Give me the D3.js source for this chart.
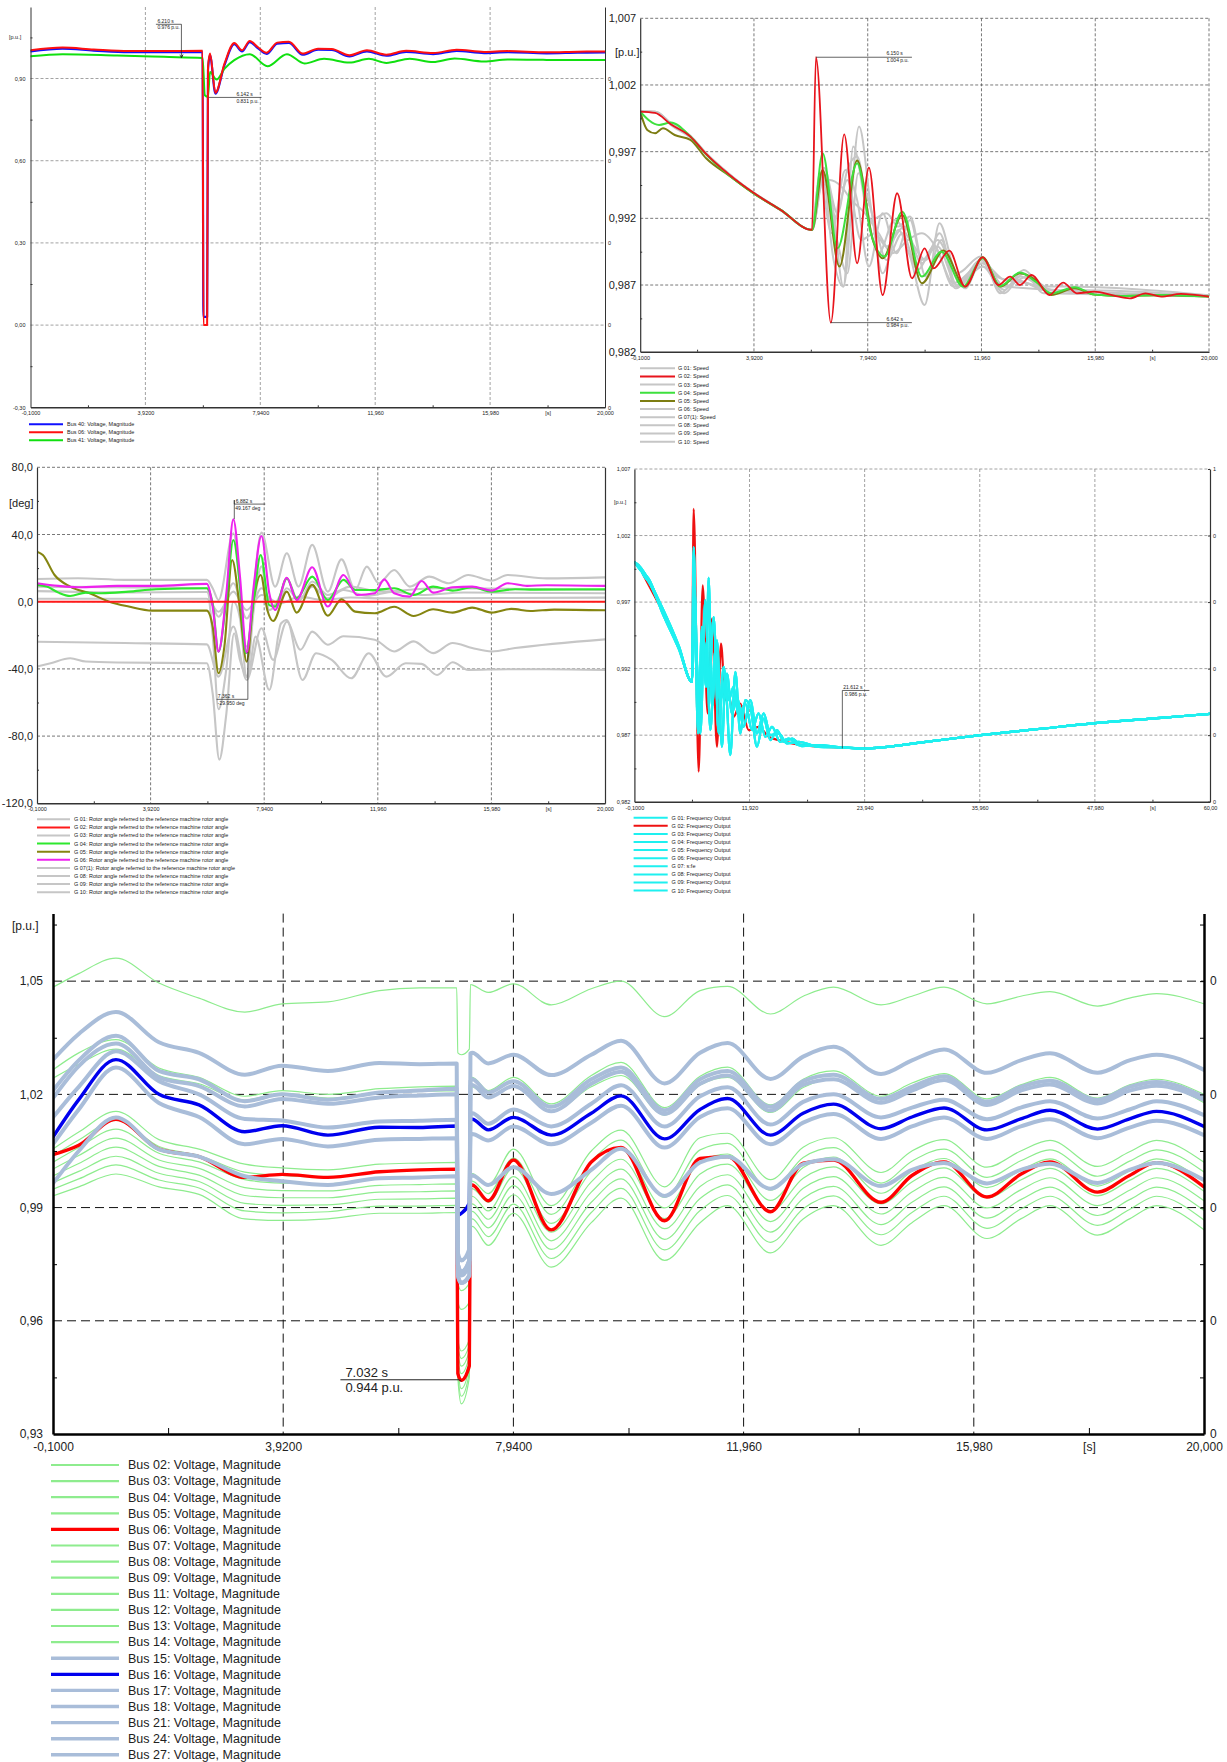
<!DOCTYPE html>
<html><head><meta charset="utf-8">
<script src="https://cdn.jsdelivr.net/npm/d3@7/dist/d3.min.js"></script>
<style>html,body{margin:0;padding:0;background:#fff}svg{display:block}</style>
</head><body>
<svg id="chart" width="1227" height="1762"></svg>
<script>
// ================= DATA =================
// ---- Panel 1 : bus voltages [p.u.] vs time [s]
const p1Bus40 = [[-0.1,0.999],[1.02,1.009],[2.11,1.002],[3.34,0.996],[4.57,0.996],[5.92,0.997],[5.95,0.03],[6.08,0.03],[6.11,0.93],[6.18,0.985],[6.37,0.845],[6.69,0.95],[7.03,1.025],[7.30,0.999],[7.57,1.033],[7.85,1.011],[8.16,0.99],[8.53,1.027],[8.94,1.03],[9.42,0.987],[9.96,1.005],[10.44,1.004],[11.06,0.981],[11.67,0.999],[12.35,0.983],[13.04,0.997],[13.99,0.989],[14.81,1.001],[15.77,0.993],[16.59,0.996],[17.96,0.992],[19.04,0.994],[20.0,0.995]];
const p1Bus06 = [[-0.1,1.003],[1.02,1.013],[2.11,1.006],[3.34,1.0],[4.57,1.0],[5.92,1.001],[5.95,0.0],[6.08,0.0],[6.11,0.94],[6.18,0.991],[6.37,0.848],[6.69,0.955],[7.03,1.03],[7.30,1.003],[7.57,1.037],[7.85,1.015],[8.16,0.994],[8.53,1.031],[8.94,1.034],[9.42,0.991],[9.96,1.009],[10.44,1.008],[11.06,0.985],[11.67,1.003],[12.35,0.987],[13.04,1.001],[13.99,0.993],[14.81,1.005],[15.77,0.997],[16.59,1.0],[17.96,0.996],[19.04,0.998],[20.0,0.999]];
const p1Bus41 = [[-0.1,0.981],[1.02,0.989],[2.93,0.984],[4.57,0.979],[5.92,0.975],[6.0,0.839],[6.11,0.833],[6.18,0.924],[6.41,0.896],[6.69,0.936],[7.03,0.967],[7.57,0.989],[8.19,0.945],[8.87,0.989],[9.49,0.955],[10.17,0.972],[11.06,0.958],[11.74,0.972],[12.35,0.957],[13.17,0.972],[13.99,0.960],[14.74,0.973],[15.77,0.962],[16.59,0.969],[17.96,0.968],[20.0,0.968]];
const p1Names = ["Bus 40: Voltage, Magnitude","Bus 06: Voltage, Magnitude","Bus 41: Voltage, Magnitude"];

// ---- Panel 2 : generator speed [p.u.]
const p2G01 = [[-0.1,1.00005],[0.427,1.0],[0.981,0.99908],[1.674,0.99813],[2.229,0.99683],[3.06,0.99525],[3.894,0.99393],[4.863,0.99263],[5.972,0.99113],[6.249,0.99538],[6.665,0.99338],[7.08,0.98688],[7.635,0.99888],[8.051,0.99288],[8.467,0.98788],[9.021,0.99113],[9.437,0.98913],[9.95,0.9855],[10.477,0.99163],[10.962,0.98838],[11.378,0.98675],[12.002,0.989],[12.625,0.98638],[13.318,0.98763],[13.873,0.98713],[14.428,0.98638],[15.259,0.98663],[20.0,0.98618]];
const p2G02 = [[-0.1,1.0],[0.427,0.9999],[0.981,0.99905],[1.674,0.99813],[2.229,0.99683],[3.06,0.99525],[3.894,0.99393],[4.863,0.99263],[5.972,0.99113],[6.11,1.00408],[6.637,0.98418],[7.108,0.9983],[7.566,0.98863],[7.981,0.9958],[8.467,0.98625],[8.98,0.99388],[9.506,0.9875],[9.95,0.98975],[10.269,0.98825],[10.823,0.98958],[11.378,0.98688],[12.002,0.98908],[12.556,0.987],[12.972,0.98763],[13.318,0.987],[13.734,0.98775],[14.358,0.98625],[14.843,0.98718],[15.329,0.98638],[15.952,0.9865],[16.645,0.9862],[17.2,0.986],[17.754,0.98638],[18.309,0.98613],[19.002,0.98633],[20.0,0.98613]];
const p2G03 = [[-0.1,1.0],[0.427,1.0],[0.981,0.99915],[1.674,0.9982],[2.229,0.9969],[3.06,0.9953],[3.894,0.9939],[4.863,0.9926],[5.972,0.99113],[6.387,0.9958],[6.873,0.99238],[7.219,0.99563],[7.566,0.99663],[8.051,0.99188],[8.605,0.99238],[9.021,0.99138],[9.437,0.99213],[9.992,0.98763],[10.546,0.99038],[11.031,0.98675],[12.002,0.98863],[12.764,0.98663],[13.457,0.98813],[14.151,0.98688],[14.843,0.98688],[20.0,0.98623]];
const p2G04 = [[-0.1,1.0],[0.565,0.999],[0.981,0.99918],[1.674,0.99813],[2.229,0.9968],[3.06,0.9952],[3.894,0.9939],[4.863,0.99263],[5.972,0.99113],[6.346,0.99688],[6.873,0.98975],[7.566,0.99613],[8.051,0.99088],[8.536,0.98913],[9.16,0.9925],[9.853,0.98763],[10.546,0.9895],[11.309,0.98688],[12.002,0.989],[12.625,0.98693],[13.318,0.98793],[13.873,0.98725],[14.428,0.98638],[15.259,0.98683],[15.952,0.98628],[16.923,0.98618],[18.309,0.98625],[20.0,0.98613]];
const p2G05 = [[-0.1,1.0],[0.15,0.99863],[0.427,0.99838],[0.704,0.99875],[1.12,0.99825],[1.674,0.99788],[2.229,0.9965],[3.06,0.99518],[3.894,0.99388],[4.863,0.99263],[5.972,0.99113],[6.346,0.99563],[6.942,0.98838],[7.566,0.99633],[8.12,0.99038],[8.467,0.989],[9.16,0.99225],[9.853,0.98713],[10.615,0.98958],[11.378,0.98688],[12.002,0.98908],[12.625,0.98688],[13.318,0.98788],[13.873,0.98738],[14.428,0.98625],[15.259,0.98675],[15.952,0.98628],[16.923,0.98618],[18.309,0.98623],[20.0,0.98613]];
const p2G06 = [[-0.1,1.0],[0.5,0.99995],[0.981,0.999],[1.674,0.99805],[2.229,0.99678],[3.06,0.9952],[3.894,0.99395],[4.863,0.99265],[5.972,0.99113],[6.318,0.9955],[6.734,0.98888],[7.08,0.98688],[7.427,0.99738],[7.912,0.99238],[8.328,0.98938],[8.883,0.99188],[9.437,0.99038],[9.992,0.98888],[10.477,0.99088],[11.101,0.98688],[12.002,0.98838],[12.625,0.9875],[13.457,0.98725],[14.151,0.98663],[20.0,0.98618]];
const p2G07 = [[-0.1,1.00005],[0.427,0.99995],[0.981,0.9991],[1.674,0.99815],[2.229,0.99685],[3.06,0.99525],[3.894,0.99393],[4.863,0.99263],[5.972,0.99113],[6.387,0.99538],[6.803,0.99088],[7.219,0.98788],[7.607,0.99538],[8.12,0.99213],[8.605,0.98888],[9.16,0.99088],[9.714,0.98813],[10.269,0.98988],[10.962,0.98713],[12.002,0.98863],[12.764,0.98738],[13.596,0.98713],[14.289,0.98668],[20.0,0.98613]];
const p2G08 = [[-0.1,1.0],[0.427,1.0],[0.981,0.99912],[1.674,0.9981],[2.229,0.99685],[3.06,0.99528],[3.894,0.99393],[4.863,0.99263],[5.972,0.99113],[6.18,0.99438],[6.595,0.99488],[7.011,0.99438],[7.358,0.99338],[7.843,0.99238],[8.328,0.99088],[8.813,0.98938],[9.368,0.99038],[9.853,0.99088],[10.408,0.98963],[10.962,0.98688],[12.002,0.98838],[12.764,0.98638],[13.457,0.98788],[14.151,0.98638],[20.0,0.98623]];
const p2G09 = [[-0.1,1.0],[0.427,0.99998],[0.981,0.99906],[1.674,0.99812],[2.229,0.99682],[3.06,0.99524],[3.894,0.99392],[4.863,0.99262],[5.972,0.99113],[6.249,0.99488],[6.665,0.99088],[7.15,0.99563],[7.566,0.99338],[7.981,0.98838],[8.467,0.99238],[8.952,0.98938],[9.437,0.99188],[9.853,0.98888],[10.408,0.98988],[11.101,0.987],[11.933,0.98888],[12.764,0.98688],[20.0,0.9862]];
const p2G10 = [[-0.1,1.0],[0.427,0.99997],[0.981,0.99907],[1.674,0.99814],[2.229,0.99684],[3.06,0.99526],[3.894,0.99394],[4.863,0.99264],[5.972,0.99113],[6.387,0.99513],[6.803,0.99213],[7.219,0.99488],[7.704,0.99038],[8.189,0.99088],[8.605,0.98988],[9.229,0.99138],[9.853,0.98863],[10.408,0.99038],[11.101,0.98788],[11.933,0.98913],[12.764,0.98688],[13.596,0.98763],[14.428,0.98663],[20.0,0.98615]];
const p2Names = ["G 01: Speed","G 02: Speed","G 03: Speed","G 04: Speed","G 05: Speed","G 06: Speed","G 07(1): Speed","G 08: Speed","G 09: Speed","G 10: Speed"];

// ---- Panel 3 : rotor angles [deg]
const p3G01 = [[-0.1,13.5],[1.35,14.0],[3.0,13.0],[5.909,13.0],[6.116,8.0],[6.324,1.0],[6.848,40.7],[7.318,-26.7],[7.843,41.1],[8.327,9.0],[8.741,28.8],[9.155,9.0],[9.639,33.8],[10.19,6.0],[10.675,25.2],[11.16,7.0],[11.57,20.9],[11.99,11.0],[12.54,18.9],[13.09,9.0],[13.78,14.9],[14.47,11.0],[15.16,15.9],[15.99,12.5],[16.55,15.9],[17.93,13.9],[20.0,14.5]];
const p3G02 = [[-0.1,0.0],[20.0,0.0]];
const p3G03 = [[-0.1,6.3],[3.0,5.5],[5.909,5.8],[6.324,-9.0],[6.848,11.0],[7.318,-10.0],[7.843,8.0],[8.327,-3.0],[8.741,8.0],[9.155,1.0],[9.639,9.0],[10.19,2.0],[10.744,7.0],[11.57,3.5],[12.54,6.0],[13.5,4.0],[15.0,5.5],[20.0,5.0]];
const p3G04 = [[-0.1,10.0],[0.245,9.0],[0.66,5.4],[1.074,3.4],[1.627,5.4],[2.179,5.0],[3.146,6.0],[4.113,7.4],[5.909,8.0],[6.116,-1.0],[6.324,-29.7],[6.6,1.0],[6.848,36.7],[7.083,9.0],[7.29,-30.7],[7.567,1.0],[7.816,27.8],[8.12,-2.0],[8.327,-2.9],[8.741,13.9],[9.087,2.0],[9.639,14.9],[10.19,1.0],[10.744,13.0],[11.16,7.0],[11.85,7.0],[12.54,8.0],[13.23,4.0],[13.92,9.0],[14.61,6.6],[15.3,8.6],[15.99,6.0],[16.82,7.4],[17.5,7.2],[20.0,7.4]];
const p3G05 = [[-0.1,29.8],[0.107,27.8],[0.522,15.9],[1.074,9.0],[1.765,5.0],[2.456,0.0],[3.146,-2.9],[3.975,-5.3],[5.909,-5.3],[6.116,-14.8],[6.324,-42.6],[6.531,-26.7],[6.807,24.8],[7.083,-4.9],[7.318,-35.7],[7.567,1.0],[7.816,15.9],[8.05,-4.9],[8.257,-11.5],[8.741,6.0],[9.087,-6.5],[9.639,10.0],[10.19,-8.3],[10.675,1.4],[11.16,-5.9],[11.85,-6.9],[12.54,-3.0],[13.23,-8.5],[13.92,-4.5],[14.61,-6.5],[15.3,-3.5],[15.99,-6.5],[16.68,-4.3],[17.37,-5.5],[18.2,-4.7],[20.0,-5.1]];
const p3G06 = [[-0.1,11.0],[0.66,9.4],[1.35,8.6],[2.732,9.4],[4.113,9.4],[5.909,10.6],[6.116,-2.9],[6.324,-29.7],[6.6,5.0],[6.848,49.0],[7.083,14.9],[7.318,-30.3],[7.567,9.0],[7.843,39.1],[8.12,5.0],[8.327,-4.9],[8.741,14.3],[9.087,1.0],[9.639,20.5],[10.19,-2.9],[10.744,15.9],[11.23,4.0],[11.85,5.0],[12.19,13.3],[12.54,5.0],[13.09,3.0],[13.51,12.3],[13.92,5.4],[14.61,8.6],[15.3,9.0],[15.99,6.6],[16.55,11.0],[17.24,9.4],[17.93,9.8],[20.0,9.4]];
const p3G07 = [[-0.1,1.8],[5.909,1.8],[6.324,-6.0],[6.848,6.0],[7.318,-5.0],[7.843,4.0],[8.5,-1.0],[9.2,3.0],[10.0,1.0],[11.0,2.5],[12.0,2.0],[20.0,2.4]];
const p3G08 = [[-0.1,-23.8],[3.0,-24.6],[5.909,-25.4],[6.324,-44.6],[6.848,-14.8],[7.318,-46.6],[7.843,-15.8],[8.257,-34.6],[8.741,-11.9],[9.225,-28.6],[9.639,-17.8],[10.19,-25.6],[10.744,-20.6],[11.85,-22.6],[12.54,-29.6],[13.23,-23.6],[13.92,-30.6],[14.61,-24.6],[15.3,-27.6],[15.99,-29.6],[16.82,-27.6],[20.0,-22.4]];
const p3G09 = [[-0.1,-38.6],[0.383,-36.6],[1.074,-33.7],[1.627,-35.6],[2.732,-36.2],[5.909,-36.6],[6.116,-54.5],[6.351,-94.0],[6.6,-66.7],[6.876,-18.8],[7.083,-34.7],[7.36,-44.6],[7.636,-20.8],[8.12,-52.5],[8.534,-13.0],[8.741,-10.9],[9.294,-46.6],[9.777,-30.7],[10.33,-34.7],[11.02,-45.6],[11.64,-30.7],[12.26,-44.6],[12.95,-36.6],[13.51,-37.0],[14.06,-43.6],[14.61,-36.0],[15.16,-40.6],[16.55,-40.2],[17.93,-40.2],[20.0,-40.6]];
const p3G10 = [[-0.1,9.0],[5.909,8.0],[6.116,-20.0],[6.324,-64.0],[6.6,-40.0],[6.848,0.0],[7.083,-10.0],[7.318,-45.0],[7.567,-5.0],[7.843,21.0],[8.12,-5.0],[8.534,5.0],[8.741,14.0],[9.155,0.0],[9.639,12.0],[10.19,4.0],[11.0,9.0],[12.0,6.0],[14.0,8.0],[20.0,7.0]];
const p3Names = ["G 01: Rotor angle referred to the reference machine rotor angle","G 02: Rotor angle referred to the reference machine rotor angle","G 03: Rotor angle referred to the reference machine rotor angle","G 04: Rotor angle referred to the reference machine rotor angle","G 05: Rotor angle referred to the reference machine rotor angle","G 06: Rotor angle referred to the reference machine rotor angle","G 07(1): Rotor angle referred to the reference machine rotor angle","G 08: Rotor angle referred to the reference machine rotor angle","G 09: Rotor angle referred to the reference machine rotor angle","G 10: Rotor angle referred to the reference machine rotor angle"];

// ---- Panel 4 : frequency output [p.u.], 0-60 s
const p4FreqA = [[-0.1,1.0],[0.35,0.99975],[0.87,0.999],[1.4,0.9985],[2.78,0.99638],[4.52,0.99363],[5.91,0.991],[6.09,1.00113],[6.54,0.98713],[6.96,0.99513],[7.38,0.99063],[7.65,0.99883],[8.0,0.98913],[8.52,0.99413],[9.04,0.98613],[9.39,0.99088],[9.91,0.9855],[10.44,0.99175],[10.96,0.98713],[11.48,0.98963],[12.0,0.98913],[12.7,0.98613],[13.4,0.98825],[14.1,0.98663],[14.8,0.98738],[15.5,0.9865],[16.36,0.98675],[17.4,0.98618],[19.1,0.98625],[21.6,0.98608],[23.89,0.986],[30.32,0.9865],[36.05,0.987],[42.6,0.9875],[48.0,0.9879],[54.88,0.9883],[60.0,0.9886]];
const p4FreqB = [[-0.1,1.0],[0.55,0.9996],[1.2,0.9989],[2.78,0.99663],[4.52,0.99375],[5.91,0.991],[6.12,0.99838],[6.68,0.98838],[7.13,0.99413],[7.65,0.99063],[8.18,0.99588],[8.7,0.98713],[9.22,0.99213],[9.74,0.98963],[10.26,0.99063],[10.79,0.98838],[11.48,0.98938],[12.18,0.98738],[12.87,0.98863],[13.57,0.98688],[14.27,0.98763],[15.13,0.9865],[16.0,0.98675],[17.05,0.98625],[19.14,0.98618],[21.6,0.98608],[23.89,0.986],[30.32,0.9865],[36.05,0.987],[42.6,0.9875],[48.0,0.9879],[54.88,0.9883],[60.0,0.9886]];
const p4FreqC = [[-0.1,1.0],[0.7,0.99925],[1.4,0.99875],[2.78,0.99625],[4.52,0.9935],[5.91,0.991],[6.19,0.99513],[6.79,0.98713],[7.3,0.99713],[7.83,0.98738],[8.35,0.99338],[8.87,0.98963],[9.56,0.99163],[10.09,0.98863],[10.61,0.98988],[11.3,0.98763],[12.0,0.98963],[12.7,0.98713],[13.4,0.98863],[14.1,0.987],[14.97,0.98713],[15.84,0.98638],[17.05,0.9865],[19.14,0.98612],[21.6,0.98608],[23.89,0.986],[30.32,0.9865],[36.05,0.987],[42.6,0.9875],[48.0,0.9879],[54.88,0.9883],[60.0,0.9886]];
const p4FreqG02 = [[-0.1,1.0],[0.35,0.99975],[0.87,0.999],[2.78,0.99638],[4.52,0.99363],[5.91,0.991],[6.09,1.004],[6.61,0.98425],[7.03,0.99825],[7.55,0.98863],[8.0,0.99575],[8.52,0.98613],[8.94,0.99388],[9.39,0.98963],[9.81,0.98975],[10.26,0.98838],[10.96,0.98938],[11.83,0.98738],[12.87,0.98763],[13.92,0.98688],[14.97,0.98663],[16.36,0.98638],[18.44,0.98618],[21.6,0.98608],[23.89,0.986],[30.32,0.9865],[36.05,0.987],[42.6,0.9875],[48.0,0.9879],[54.88,0.9883],[60.0,0.9886]];
const p4Names = ["G 01: Frequency Output","G 02: Frequency Output","G 03: Frequency Output","G 04: Frequency Output","G 05: Frequency Output","G 06: Frequency Output","G 07: s:fe","G 08: Frequency Output","G 09: Frequency Output","G 10: Frequency Output"];

// ---- Panel 5 : bus voltages [p.u.], shared time grid [s]
const T5 = [-0.1,0.35,1.0,1.75,2.45,3.25,3.9,4.7,5.6,6.3,6.95,6.97,7.03,7.17,7.19,7.22,7.5,7.94,8.6,9.3,9.82,10.58,11.2,11.68,12.43,13.0,13.53,14.36,14.9,15.46,16.21,16.8,17.31,18.14,18.7,19.17,20.0];
const bus02 = [1.0484,1.052,1.0561,1.0495,1.0455,1.0418,1.044,1.0445,1.0475,1.0482,1.0482,1.031,1.0305,1.032,1.0491,1.049,1.047,1.0493,1.0437,1.048,1.05,1.0406,1.0475,1.0486,1.0413,1.046,1.0484,1.0437,1.046,1.0484,1.044,1.046,1.0472,1.0434,1.0455,1.0467,1.044];
const bus03 = [1.0265,1.031,1.0345,1.027,1.0245,1.0195,1.021,1.02,1.0215,1.022,1.0222,0.97,0.968,0.97,1.0245,1.0245,1.021,1.0245,1.0175,1.025,1.0285,1.0165,1.0248,1.0272,1.0172,1.024,1.0262,1.0195,1.023,1.0255,1.0188,1.0225,1.0245,1.019,1.0225,1.024,1.02];
const bus04 = [1.0243,1.028,1.032,1.025,1.0228,1.0185,1.0203,1.019,1.0205,1.0208,1.021,0.965,0.963,0.965,1.022,1.022,1.019,1.022,1.0155,1.022,1.025,1.0145,1.0225,1.0245,1.0152,1.0218,1.024,1.018,1.0212,1.0238,1.0175,1.021,1.0228,1.0178,1.021,1.0225,1.0178];
const bus05 = [1.0055,1.01,1.0155,1.008,1.0055,1.0015,1.0005,1.0,1.0015,1.0018,1.002,0.955,0.952,0.955,0.999,0.999,0.996,1.0055,0.9905,1.005,1.0105,0.9955,1.0085,1.0097,0.9974,1.006,1.0085,0.9993,1.005,1.008,1.0007,1.005,1.0078,1.0009,1.0048,1.0078,1.002];
const bus06 = [1.004,1.0065,1.0134,1.0055,1.0035,0.998,0.9988,0.998,0.9995,1.0,1.0002,0.946,0.9442,0.948,0.9955,0.996,0.9918,1.0026,0.9841,1.0021,1.0059,0.9865,1.003,1.0035,0.9889,1.0018,1.0026,0.9914,0.9985,1.0021,0.9928,0.9988,1.0021,0.9941,0.9985,1.0019,0.9955];
const bus07 = [1.0037,1.0079,1.0131,1.0062,1.0038,0.9994,0.9985,0.9981,0.9996,0.9999,1.0001,0.9536,0.95,0.9536,0.997,0.997,0.9937,1.0031,0.9882,1.0023,1.0079,0.9927,1.0053,1.007,0.9946,1.0033,1.0059,0.9965,1.0023,1.0055,0.998,1.0024,1.0053,0.9983,1.0023,1.0053,0.9994];
const bus08 = [1.002,1.0059,1.0108,1.0044,1.0021,0.9974,0.9965,0.9963,0.9978,0.998,0.9982,0.9521,0.948,0.9521,0.995,0.995,0.9914,1.0006,0.9858,0.9996,1.0054,0.9899,1.0021,1.0042,0.9919,1.0006,1.0034,0.9938,0.9996,1.003,0.9953,0.9999,1.0029,0.9957,0.9997,1.0029,0.9969];
const bus09 = [1.0002,1.0038,1.0084,1.0026,1.0004,0.9953,0.9945,0.9944,0.9959,0.9961,0.9963,0.9507,0.946,0.9507,0.993,0.993,0.9891,0.9982,0.9835,0.9968,1.0028,0.9871,0.9989,1.0015,0.9891,0.9978,1.0008,0.991,0.9968,1.0005,0.9926,0.9973,1.0004,0.9931,0.9972,1.0004,0.9943];
const bus11 = [0.9984,1.0017,1.006,1.0009,0.9986,0.9932,0.9926,0.9926,0.9941,0.9942,0.9944,0.9493,0.944,0.9493,0.991,0.991,0.9869,0.9958,0.9812,0.9941,1.0002,0.9844,0.9956,0.9987,0.9863,0.9951,0.9982,0.9883,0.9941,0.998,0.9899,0.9947,0.9979,0.9905,0.9946,0.9979,0.9918];
const bus12 = [0.9966,0.9996,1.0036,0.9991,0.9969,0.9911,0.9906,0.9907,0.9922,0.9923,0.9925,0.9479,0.942,0.9479,0.989,0.989,0.9846,0.9934,0.9789,0.9914,0.9976,0.9816,0.9924,0.996,0.9835,0.9924,0.9956,0.9855,0.9914,0.9955,0.9872,0.9921,0.9954,0.9879,0.9921,0.9954,0.9892];
const bus13 = [0.9949,0.9976,1.0013,0.9973,0.9952,0.9891,0.9886,0.9889,0.9904,0.9904,0.9906,0.9464,0.94,0.9464,0.987,0.987,0.9823,0.9909,0.9765,0.9887,0.9951,0.9788,0.9892,0.9932,0.9808,0.9897,0.9931,0.9828,0.9887,0.993,0.9845,0.9896,0.993,0.9853,0.9895,0.993,0.9867];
const bus14 = [0.9931,0.9955,0.9989,0.9955,0.9935,0.987,0.9866,0.987,0.9885,0.9885,0.9887,0.945,0.938,0.945,0.985,0.985,0.98,0.9885,0.9742,0.986,0.9925,0.976,0.986,0.9905,0.978,0.987,0.9905,0.98,0.986,0.9905,0.9818,0.987,0.9905,0.9827,0.987,0.9905,0.9841];
const bus15 = [1.0292,1.036,1.0418,1.0338,1.031,1.0252,1.0276,1.0262,1.0283,1.028,1.0282,0.972,0.97,0.972,1.0309,1.031,1.0282,1.0305,1.0251,1.0305,1.0342,1.0229,1.031,1.0336,1.0241,1.03,1.0326,1.0254,1.029,1.0319,1.0257,1.029,1.0309,1.0257,1.029,1.0305,1.0265];
const bus16 = [1.0087,1.0186,1.0292,1.02,1.0172,1.0101,1.0117,1.0092,1.0113,1.0112,1.0116,0.988,0.9885,0.9912,1.0134,1.0134,1.0106,1.0139,1.0092,1.015,1.0196,1.0082,1.016,1.0189,1.0092,1.015,1.0174,1.0109,1.014,1.0164,1.0106,1.0135,1.0158,1.0108,1.0135,1.0155,1.0115];
const bus17 = [1.021,1.029,1.0355,1.0262,1.024,1.0182,1.02,1.0186,1.0205,1.021,1.0215,0.975,0.973,0.976,1.0235,1.024,1.0205,1.0235,1.0167,1.024,1.0271,1.0158,1.024,1.0262,1.0167,1.0235,1.0252,1.0188,1.022,1.0248,1.0181,1.022,1.0236,1.0185,1.022,1.0233,1.0193];
const bus18 = [1.019,1.0275,1.0335,1.0245,1.0222,1.0168,1.0188,1.0175,1.0192,1.0197,1.02,0.978,0.976,0.979,1.0222,1.0225,1.0192,1.0222,1.0155,1.0228,1.026,1.0148,1.0228,1.025,1.0157,1.0225,1.024,1.0178,1.021,1.0238,1.0172,1.021,1.0226,1.0176,1.021,1.0223,1.0185];
const bus21 = [1.0139,1.022,1.0314,1.0235,1.02,1.0135,1.0131,1.0112,1.0128,1.013,1.0133,0.975,0.972,0.975,1.015,1.015,1.0122,1.016,1.0115,1.0175,1.0224,1.0115,1.0195,1.0219,1.012,1.018,1.02,1.0139,1.0165,1.0186,1.0134,1.0165,1.0182,1.0136,1.016,1.0182,1.0145];
const bus24 = [1.0068,1.016,1.0271,1.0177,1.014,1.0068,1.0082,1.0062,1.008,1.0082,1.0084,0.972,0.97,0.972,1.0095,1.0095,1.0078,1.0115,1.0068,1.0125,1.017,1.0059,1.014,1.0163,1.0068,1.0125,1.0148,1.0082,1.0115,1.0139,1.0082,1.0115,1.0134,1.0084,1.0112,1.013,1.0092];
const bus27 = [0.9964,1.005,1.0139,1.0054,1.0035,0.9983,0.997,0.996,0.9978,0.998,0.9983,0.975,0.973,0.976,0.9985,0.9985,0.996,1.0007,0.9936,1.0,1.0056,0.9931,1.002,1.0035,0.995,1.0015,1.0028,0.9957,1.0,1.0018,0.9964,1.0,1.0016,0.9965,1.0,1.0018,0.9973];
const p5Names = ["Bus 02","Bus 03","Bus 04","Bus 05","Bus 06","Bus 07","Bus 08","Bus 09","Bus 11","Bus 12","Bus 13","Bus 14","Bus 15","Bus 16","Bus 17","Bus 18","Bus 21","Bus 24","Bus 27"];

// ---- tick labels
const tLab20 = ["-0,1000","3,9200","7,9400","11,960","15,980","[s]","20,000"];
const tLab60 = ["-0,1000","11,920","23,940","35,960","47,980","[s]","60,00"];
const p1YLab = ["-0,30","0,00","0,30","0,60","0,90"];
const puYLab = ["0,982","0,987","0,992","0,997","1,002","1,007"];
const degYLab = ["-120,0","-80,0","-40,0","0,0","40,0","80,0"];
const p5YLab = ["0,93","0,96","0,99","1,02","1,05"];

// ================= DRAWING =================
const svg = d3.select('#chart');
const defs = svg.append('defs');
const FF = '"Liberation Sans", Arial, Helvetica, sans-serif';
const toPts = (vals) => T5.map((t, i) => [t, vals[i]]);

function styleAxis(a, fs, col, w) {
  a.attr('font-family', FF).attr('font-size', fs);
  a.select('.domain').attr('stroke', col).attr('stroke-width', w);
  a.selectAll('.tick line').attr('stroke', col);
  a.selectAll('.tick text').attr('fill', '#222');
}

function drawPanel(o) {
  const x = d3.scaleLinear().domain(o.xd).range([o.l, o.r]);
  const y = d3.scaleLinear().domain(o.yd).range([o.b, o.t]);
  const g = svg.append('g');
  g.append('g').selectAll('line').data(o.xGrid).join('line')
    .attr('x1', d => x(d)).attr('x2', d => x(d)).attr('y1', o.t).attr('y2', o.b)
    .attr('stroke', o.gc).attr('stroke-width', o.gw).attr('stroke-dasharray', o.dash);
  g.append('g').selectAll('line').data(o.yGrid).join('line')
    .attr('x1', o.l).attr('x2', o.r).attr('y1', d => y(d)).attr('y2', d => y(d))
    .attr('stroke', o.gc).attr('stroke-width', o.gw).attr('stroke-dasharray', o.dash);
  const cid = 'clip' + o.id;
  defs.append('clipPath').attr('id', cid).append('rect')
    .attr('x', o.l).attr('y', o.t - 1).attr('width', o.r - o.l).attr('height', o.b - o.t + 1);
  const line = d3.line().x(d => x(d[0])).y(d => y(d[1])).curve(d3.curveMonotoneX);
  const sg = g.append('g').attr('clip-path', `url(#${cid})`);
  sg.selectAll('path').data(o.series).join('path')
    .attr('d', s => line(s.pts)).attr('fill', 'none')
    .attr('stroke', s => s.color).attr('stroke-width', s => s.w)
    .attr('stroke-linejoin', 'round').attr('stroke-linecap', 'round');
  const la = g.append('g').attr('transform', `translate(${o.l},0)`)
    .call(d3.axisLeft(y).tickValues(o.yTicks).tickFormat((d, i) => o.yLab[i])
      .tickSizeInner(0).tickSizeOuter(0).tickPadding(o.yPad));
  styleAxis(la, o.yFs, o.axC, o.lw);
  if (o.yMinor) {
    const m = g.append('g').attr('transform', `translate(${o.l},0)`)
      .call(d3.axisLeft(y).tickValues(o.yMinor).tickFormat(() => '').tickSizeInner(-o.minY).tickSizeOuter(0));
    m.select('.domain').remove(); m.selectAll('line').attr('stroke', o.axC);
  }
  const ba = g.append('g').attr('transform', `translate(0,${o.b})`)
    .call(d3.axisBottom(x).tickValues(o.xTicks).tickFormat((d, i) => o.xLab[i])
      .tickSizeInner(0).tickSizeOuter(0).tickPadding(o.xPad));
  styleAxis(ba, o.xFs, o.axC, o.bw);
  if (o.xMinor) {
    const m = g.append('g').attr('transform', `translate(0,${o.b})`)
      .call(d3.axisBottom(x).tickValues(o.xMinor).tickFormat(() => '').tickSizeInner(-o.minX).tickSizeOuter(0));
    m.select('.domain').remove(); m.selectAll('line').attr('stroke', o.axC);
  }
  if (o.right) {
    const ra = g.append('g').attr('transform', `translate(${o.r},0)`)
      .call(d3.axisRight(y).tickValues(o.right.ticks).tickFormat((d, i) => o.right.lab[i])
        .tickSizeInner(-o.right.len).tickSizeOuter(0).tickPadding(o.right.pad));
    styleAxis(ra, o.right.fs, o.axC, o.right.w);
  }
  if (o.unit) {
    g.append('text').attr('x', o.unit[0]).attr('y', o.unit[1]).attr('font-family', FF)
      .attr('font-size', o.unit[3]).attr('fill', '#222').text(o.unit[2]);
  }
  return { x, y, g };
}

function legend(items, x1, x2, tx, y0, dy, fs) {
  const lg = svg.append('g').attr('font-family', FF).attr('font-size', fs);
  items.forEach((it, i) => {
    const yy = y0 + i * dy;
    lg.append('line').attr('x1', x1).attr('x2', x2).attr('y1', yy).attr('y2', yy)
      .attr('stroke', it.color).attr('stroke-width', it.lw);
    lg.append('text').attr('x', tx).attr('y', yy).attr('dy', '0.35em').attr('fill', '#222').text(it.name);
  });
}

function annot(p, t, v, path, texts, fs, sw) {
  const ax = p.x(t), ay = p.y(v);
  svg.append('path').attr('d', d3.line()(path.map(([dx, dy]) => [ax + dx, ay + dy])))
    .attr('fill', 'none').attr('stroke', '#222').attr('stroke-width', sw || 0.7);
  texts.forEach(tt => svg.append('text').attr('x', ax + tt[0]).attr('y', ay + tt[1])
    .attr('font-family', FF).attr('font-size', fs).attr('fill', '#222').text(tt[2]));
}

const xT20 = [-0.1, 3.92, 7.94, 11.96, 15.98, 17.99, 20.0];
const xM20 = [1.91, 5.93, 9.95, 13.97, 17.99];
const xT60 = [-0.1, 11.92, 23.94, 35.96, 47.98, 53.99, 60.0];
const xM60 = [5.91, 17.93, 29.95, 41.97, 53.99];

// ---------- Panel 1
const c1 = { red: '#ff1010', blue: '#1010ff', green: '#10e010' };
const P1 = drawPanel({
  id: 1, l: 30.5, r: 605, t: 7, b: 407.3, xd: [-0.1, 20], yd: [-0.3, 1.161],
  xGrid: [3.92, 7.94, 11.96, 15.98], yGrid: [0, 0.3, 0.6, 0.9], gc: '#8a8a8a', gw: 0.8, dash: '3,2',
  series: [
    { pts: p1Bus40, color: c1.blue, w: 2.2 },
    { pts: p1Bus41, color: c1.green, w: 2 },
    { pts: p1Bus06, color: c1.red, w: 2 }
  ],
  yTicks: [-0.3, 0, 0.3, 0.6, 0.9], yLab: p1YLab, yPad: 5, yFs: 5.5, axC: '#333', lw: 1,
  yMinor: [-0.15, 0.15, 0.45, 0.75, 1.05], minY: 2,
  xTicks: xT20, xLab: tLab20, xPad: 4, xFs: 5.5, bw: 1.5, xMinor: xM20, minX: 2,
  right: { ticks: [-0.3, 0, 0.3, 0.6, 0.9], lab: ['0', '0', '0', '0', '0'], len: 0, pad: 3, fs: 5.5, w: 1 },
  unit: [9, 39, '[p.u.]', 5.5]
});
annot(P1, 5.18, 0.976, [[-1.5, -3], [0, 0], [1.5, -3], [0, 0], [0, -33.4], [-25.5, -33.4]],
  [[-24, -35, '6.210 s'], [-24, -28.7, '0.976 p.u.']], 5);
annot(P1, 6.142, 0.831, [[0, 0], [52.6, 0]], [[27.5, -1.2, '6.142 s'], [27.5, 5.2, '0.831 p.u.']], 5);
legend([{ name: p1Names[0], color: c1.blue, lw: 2 }, { name: p1Names[1], color: c1.red, lw: 2 }, { name: p1Names[2], color: c1.green, lw: 2 }],
  29, 63, 67, 424.3, 8, 5.5);

// ---------- Panel 2
const gray = '#c6c6c6';
const c2 = { red: '#e8141c', green: '#3ee03e', olive: '#7d7d12' };
const p2Series = [p2G01, p2G02, p2G03, p2G04, p2G05, p2G06, p2G07, p2G08, p2G09, p2G10];
const p2Col = [gray, c2.red, gray, c2.green, c2.olive, gray, gray, gray, gray, gray];
const p2Order = [0, 2, 5, 6, 7, 8, 9, 4, 3, 1];
const P2 = drawPanel({
  id: 2, l: 640.2, r: 1209, t: 18.3, b: 351.7, xd: [-0.1, 20], yd: [0.982, 1.007],
  xGrid: [3.92, 7.94, 11.96, 15.98, 20], yGrid: [0.987, 0.992, 0.997, 1.002, 1.007], gc: '#555', gw: 0.8, dash: '3,2',
  series: p2Order.map(i => ({ pts: p2Series[i], color: p2Col[i], w: i === 1 ? 1.8 : 2 })),
  yTicks: [0.982, 0.987, 0.992, 0.997, 1.002, 1.007], yLab: puYLab, yPad: 4, yFs: 11, axC: '#333', lw: 1.2,
  yMinor: [0.9845, 0.9895, 0.9945, 0.9995, 1.0045], minY: 2,
  xTicks: xT20, xLab: tLab20, xPad: 4, xFs: 5.5, bw: 1.6, xMinor: xM20, minX: 2,
  unit: [615, 56, '[p.u.]', 11]
});
annot(P2, 6.11, 1.00408, [[0, 0], [96, 0]], [[70.5, -2, '6.150 s'], [70.5, 4.5, '1.004 p.u.']], 5);
annot(P2, 6.637, 0.98418, [[0, 0], [81, 0]], [[55.7, -2, '6.642 s'], [55.7, 4.5, '0.984 p.u.']], 5);
legend(p2Names.map((n, i) => ({ name: n, color: p2Col[i], lw: 2 })), 640, 675, 678, 368.3, 8.15, 5.5);

// ---------- Panel 3
const c3 = { red: '#ff1a1a', green: '#2ee82e', olive: '#858510', mag: '#ee22ee' };
const p3Series = [p3G01, p3G02, p3G03, p3G04, p3G05, p3G06, p3G07, p3G08, p3G09, p3G10];
const p3Col = [gray, c3.red, gray, c3.green, c3.olive, c3.mag, gray, gray, gray, gray];
const p3Order = [0, 2, 6, 7, 8, 9, 4, 3, 5, 1];
const P3 = drawPanel({
  id: 3, l: 37, r: 605, t: 467.3, b: 803.3, xd: [-0.1, 20], yd: [-120, 80],
  xGrid: [3.92, 7.94, 11.96, 15.98], yGrid: [-80, -40, 0, 40, 80], gc: '#555', gw: 0.8, dash: '3,2',
  series: p3Order.map(i => ({ pts: p3Series[i], color: p3Col[i], w: 2.1 })),
  yTicks: [-120, -80, -40, 0, 40, 80], yLab: degYLab, yPad: 4, yFs: 11, axC: '#333', lw: 1.2,
  yMinor: [-100, -60, -20, 20, 60], minY: 2,
  xTicks: xT20, xLab: tLab20, xPad: 4, xFs: 5.5, bw: 1.6, xMinor: xM20, minX: 2,
  right: { ticks: [], lab: [], len: 0, pad: 3, fs: 5.5, w: 1.2 },
  unit: [9, 507, '[deg]', 11]
});
annot(P3, 6.882, 49.167, [[0, 0], [0, -19], [0, -15], [31, -15]], [[1.5, -15.8, '6.882 s'], [1, -9.5, '49.167 deg']], 5);
annot(P3, 7.362, -29.95, [[0, 0], [0, 47.3], [-31.3, 47.3]], [[-30, 46.3, '7.362 s'], [-30, 53, '-29.950 deg']], 5);
legend(p3Names.map((n, i) => ({ name: n, color: p3Col[i], lw: 2 })), 37, 70, 74, 819.3, 8.1, 5.5);

// ---------- Panel 4
const cyan = '#1ef0f0';
const p4Series = [p4FreqA, p4FreqG02, p4FreqB, p4FreqC, p4FreqA, p4FreqB, p4FreqC, p4FreqA, p4FreqB, p4FreqC];
const p4Col = [cyan, '#ee1111', cyan, cyan, cyan, cyan, cyan, cyan, cyan, cyan];
const p4Order = [1, 0, 2, 3, 4, 5, 6, 7, 8, 9];
const P4 = drawPanel({
  id: 4, l: 634.4, r: 1210, t: 469, b: 801.7, xd: [-0.1, 60], yd: [0.982, 1.007],
  xGrid: [11.92, 23.94, 35.96, 47.98], yGrid: [0.987, 0.992, 0.997, 1.002, 1.007], gc: '#8a8a8a', gw: 0.8, dash: '3,2',
  series: p4Order.map(i => ({ pts: p4Series[i], color: p4Col[i], w: 2.2 })),
  yTicks: [0.982, 0.987, 0.992, 0.997, 1.002, 1.007], yLab: puYLab, yPad: 4, yFs: 5.5, axC: '#333', lw: 1.2,
  yMinor: [0.9845, 0.9895, 0.9945, 0.9995, 1.0045], minY: 2,
  xTicks: xT60, xLab: tLab60, xPad: 4, xFs: 5.5, bw: 1.6, xMinor: xM60, minX: 2,
  right: { ticks: [0.982, 0.987, 0.992, 0.997, 1.002, 1.007], lab: ['0', '0', '0', '0', '0', '1'], len: 2, pad: 3, fs: 5.5, w: 1.2 },
  unit: [614, 504, '[p.u.]', 5.5]
});
annot(P4, 21.612, 0.986, [[0, 0], [0, -58], [27, -58]], [[1, -59, '21.612 s'], [2.5, -52, '0.986 p.u.']], 5);
legend(p4Names.map((n, i) => ({ name: n, color: p4Col[i], lw: 2 })), 633.6, 667.7, 671.6, 817.7, 8.1, 5.5);

// ---------- Panel 5 (thin greens first, then red, then the blue family in legend order)
const c5 = { green: '#8eec8e', lblue: '#a9bdd9', blue: '#0000ee', red: '#ff0000' };
const p5Vals = [bus02, bus03, bus04, bus05, bus06, bus07, bus08, bus09, bus11, bus12, bus13, bus14, bus15, bus16, bus17, bus18, bus21, bus24, bus27];
const p5Kind = ['g','g','g','g','r','g','g','g','g','g','g','g','l','b','l','l','l','l','l'];
const kindStyle = { g: { c: c5.green, w: 1.2, lw: 2.2 }, l: { c: c5.lblue, w: 4, lw: 3.4 }, b: { c: c5.blue, w: 3.4, lw: 3.2 }, r: { c: c5.red, w: 3.4, lw: 3.2 } };
const p5Order = [0, 1, 2, 3, 5, 6, 7, 8, 9, 10, 11, 4, 12, 13, 14, 15, 16, 17, 18];
const P5 = drawPanel({
  id: 5, l: 53, r: 1204, t: 913.6, b: 1434, xd: [-0.1, 20], yd: [0.93, 1.0679],
  xGrid: [3.92, 7.94, 11.96, 15.98], yGrid: [0.96, 0.99, 1.02, 1.05], gc: '#111', gw: 1, dash: '9,5',
  series: p5Order.map(i => ({ pts: toPts(p5Vals[i]), color: kindStyle[p5Kind[i]].c, w: kindStyle[p5Kind[i]].w })),
  yTicks: [0.93, 0.96, 0.99, 1.02, 1.05], yLab: p5YLab, yPad: 10, yFs: 12, axC: '#000', lw: 2.5,
  yMinor: [0.945, 0.975, 1.005, 1.035, 1.065], minY: 4,
  xTicks: xT20, xLab: tLab20, xPad: 8, xFs: 12, bw: 2.5, xMinor: xM20, minX: 6,
  right: { ticks: [0.93, 0.945, 0.96, 0.975, 0.99, 1.005, 1.02, 1.035, 1.05, 1.065], lab: ['0', '', '0', '', '0', '', '0', '', '0', ''], len: 4, pad: 6, fs: 12, w: 2.5 },
  unit: [12, 930, '[p.u.]', 12]
});
annot(P5, 7.032, 0.944, [[0, 0], [-2.5, -1.4], [-121, -1.4]], [[-116, -4, '7.032 s'], [-116, 10.5, '0.944 p.u.']], 13, 1);
legend(p5Names.map((n, i) => ({ name: n + ': Voltage, Magnitude', color: kindStyle[p5Kind[i]].c, lw: kindStyle[p5Kind[i]].lw })),
  51, 119, 128, 1465, 16.1, 12.5);
</script>
</body></html>
